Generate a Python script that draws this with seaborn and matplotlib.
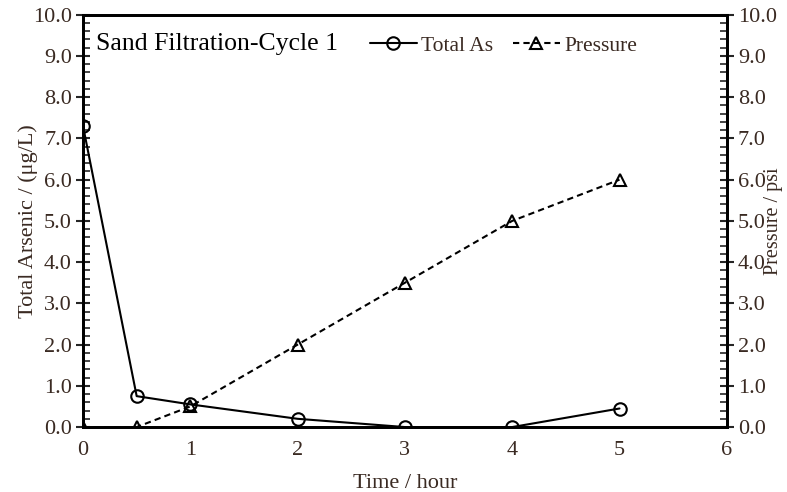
import matplotlib.pyplot as plt
import seaborn as sns
import pandas as pd
from matplotlib.ticker import MultipleLocator

# data
time_h = [0, 0.5, 1, 2, 3, 4, 5]
total_as = [7.3, 0.75, 0.55, 0.2, 0.0, 0.0, 0.45]
pressure = [0.0, 0.0, 0.5, 2.0, 3.5, 5.0, 6.0]
y_ticks = list(range(11))
y_ticklabels = [f"{v:.1f}" for v in y_ticks]

df = pd.DataFrame({"time": time_h, "As": total_as, "P": pressure})

sns.set_theme(style="white")
plt.rcParams['font.family'] = ['Liberation Serif', 'DejaVu Serif']

txt = "#3a2a22"
fig = plt.figure(figsize=(7.87, 4.92), dpi=100)
ax = fig.add_axes([0.1055, 0.132, 0.818, 0.838])
ax2 = ax.twinx()

sns.lineplot(data=df, x="time", y="As", ax=ax, color="black", lw=1.5,
             marker="o", markersize=9, markerfacecolor="none",
             markeredgecolor="black", markeredgewidth=1.5, label="Total As",
             legend=False)
sns.lineplot(data=df, x="time", y="P", ax=ax2, color="black", lw=1.5,
             linestyle=(0, (3, 2)), marker="^", markersize=9,
             markerfacecolor="none", markeredgecolor="black",
             markeredgewidth=1.5, label="Pressure", legend=False)

for a in (ax, ax2):
    a.set_ylim(0, 10)
    a.set_yticks(y_ticks)
    a.set_yticklabels(y_ticklabels)
    a.yaxis.set_minor_locator(MultipleLocator(0.2))
    for s in a.spines.values():
        s.set_color("black")
        s.set_linewidth(2)
    a.tick_params(axis="y", which="major", direction="inout", length=10, width=1.5,
                  labelsize=16, labelcolor=txt, pad=3)
    a.tick_params(axis="y", which="minor", direction="in", length=5, width=1.2)

ax.set_xlim(0, 6)
ax.xaxis.set_major_locator(MultipleLocator(1))
ax.xaxis.set_minor_locator(MultipleLocator(0.2))
ax.tick_params(axis="x", which="major", direction="inout", length=10, width=1.5,
               labelsize=16, labelcolor=txt, pad=5)
ax.tick_params(axis="x", which="minor", direction="in", length=5, width=1.2)
ax.tick_params(axis="y", which="both", left=True, right=False)
ax2.tick_params(axis="y", which="both", left=False, right=True)

ax.set_xlabel("Time / hour", fontsize=16, color=txt, labelpad=10)
ax.set_ylabel("Total Arsenic / (μg/L)", fontsize=16, color=txt, labelpad=-4)
ax2.set_ylabel("Pressure / psi", fontsize=14.5, color=txt, labelpad=-9)

ax.text(0.12, 9.3, "Sand Filtration-Cycle 1", fontsize=18.5, color="black",
        va="center", ha="left")

h1, l1 = ax.get_legend_handles_labels()
h2, l2 = ax2.get_legend_handles_labels()
ax.legend(h1 + h2, l1 + l2, ncol=2, frameon=False, fontsize=15.5,
          loc="center left", bbox_to_anchor=(0.415, 0.925),
          handlelength=2.2, handletextpad=0.2, columnspacing=0.9,
          labelcolor=txt)

fig.savefig("out.png", dpi=100)
